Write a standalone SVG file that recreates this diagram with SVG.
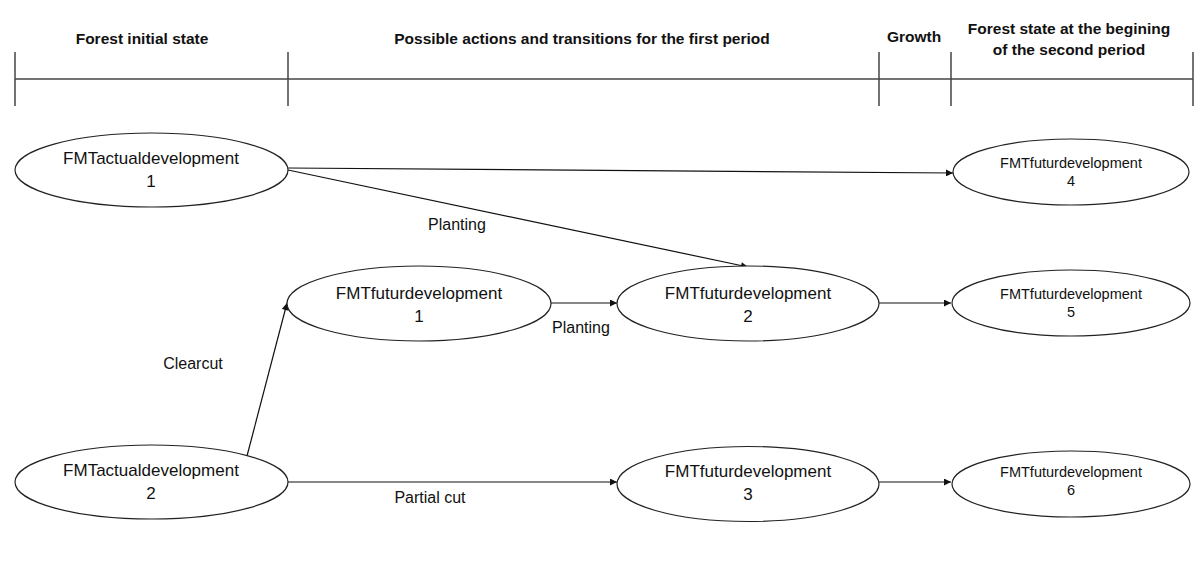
<svg xmlns="http://www.w3.org/2000/svg" width="1200" height="567" viewBox="0 0 1200 567">
<style>
.hdr{font-family:"Liberation Sans",Arial,sans-serif;font-weight:bold;font-size:15.5px;fill:#111;text-anchor:middle}
.nl{font-family:"Liberation Sans",Arial,sans-serif;font-size:17px;fill:#111;text-anchor:middle}
.ns{font-family:"Liberation Sans",Arial,sans-serif;font-size:14.5px;fill:#111;text-anchor:middle}
.el{font-family:"Liberation Sans",Arial,sans-serif;font-size:16px;fill:#111;text-anchor:middle}
.node ellipse{fill:#fff;stroke:#222;stroke-width:1.2}
.tl{stroke:#444;stroke-width:1.5}
.edge{stroke:#111;stroke-width:1.2;fill:none;marker-end:url(#ah)}
</style>
<defs>
<marker id="ah" viewBox="0 0 10 10" refX="10" refY="5" markerWidth="9" markerHeight="7" markerUnits="userSpaceOnUse" orient="auto">
<path d="M0,0 L10,5 L0,10 Z" fill="#111"/>
</marker>
</defs>
<rect width="1200" height="567" fill="#fff"/>
<g id="timeline">
<line class="tl" x1="15" y1="79" x2="1193" y2="79"/>
<line class="tl" x1="15" y1="52" x2="15" y2="106"/>
<line class="tl" x1="288" y1="52" x2="288" y2="106"/>
<line class="tl" x1="879" y1="52" x2="879" y2="106"/>
<line class="tl" x1="951" y1="52" x2="951" y2="106"/>
<line class="tl" x1="1193" y1="52" x2="1193" y2="106"/>
<text class="hdr" x="142" y="44">Forest initial state</text>
<text class="hdr" x="582" y="44">Possible actions and transitions for the first period</text>
<text class="hdr" x="914" y="42">Growth</text>
<text class="hdr" x="1069" y="34">Forest state at the begining</text>
<text class="hdr" x="1069" y="55">of the second period</text>
</g>
<g id="connectors">
<line class="edge" x1="288" y1="168" x2="953" y2="173"/>
<line class="edge" x1="288" y1="170" x2="748" y2="267"/>
<line class="edge" x1="551" y1="303" x2="617" y2="303"/>
<line class="edge" x1="247" y1="456" x2="287" y2="303"/>
<line class="edge" x1="288" y1="482" x2="617" y2="482"/>
<line class="edge" x1="879" y1="303" x2="951" y2="303"/>
<line class="edge" x1="879" y1="482" x2="951" y2="482"/>
<text class="el" x="457" y="230">Planting</text>
<text class="el" x="581" y="333">Planting</text>
<text class="el" x="193" y="369">Clearcut</text>
<text class="el" x="430" y="503">Partial cut</text>
</g>
<g id="actual1" class="node">
<ellipse cx="151.5" cy="170" rx="136.5" ry="37"/>
<text class="nl" x="151" y="164">FMTactualdevelopment</text>
<text class="nl" x="151" y="187">1</text>
</g>
<g id="actual2" class="node">
<ellipse cx="151.5" cy="482" rx="136.5" ry="37"/>
<text class="nl" x="151" y="476">FMTactualdevelopment</text>
<text class="nl" x="151" y="499">2</text>
</g>
<g id="futur1" class="node">
<ellipse cx="419" cy="303.5" rx="132" ry="37.5"/>
<text class="nl" x="419" y="299">FMTfuturdevelopment</text>
<text class="nl" x="419" y="322">1</text>
</g>
<g id="futur2" class="node">
<ellipse cx="748" cy="303.5" rx="131" ry="37.5"/>
<text class="nl" x="748" y="299">FMTfuturdevelopment</text>
<text class="nl" x="748" y="322">2</text>
</g>
<g id="futur3" class="node">
<ellipse cx="748" cy="484" rx="131" ry="37.5"/>
<text class="nl" x="748" y="477">FMTfuturdevelopment</text>
<text class="nl" x="748" y="500">3</text>
</g>
<g id="futur4" class="node">
<ellipse cx="1071" cy="172" rx="118" ry="33"/>
<text class="ns" x="1071" y="168">FMTfuturdevelopment</text>
<text class="ns" x="1071" y="186">4</text>
</g>
<g id="futur5" class="node">
<ellipse cx="1071" cy="303" rx="119" ry="33"/>
<text class="ns" x="1071" y="299">FMTfuturdevelopment</text>
<text class="ns" x="1071" y="317">5</text>
</g>
<g id="futur6" class="node">
<ellipse cx="1071" cy="484" rx="119" ry="33"/>
<text class="ns" x="1071" y="477">FMTfuturdevelopment</text>
<text class="ns" x="1071" y="495">6</text>
</g>
</svg>
